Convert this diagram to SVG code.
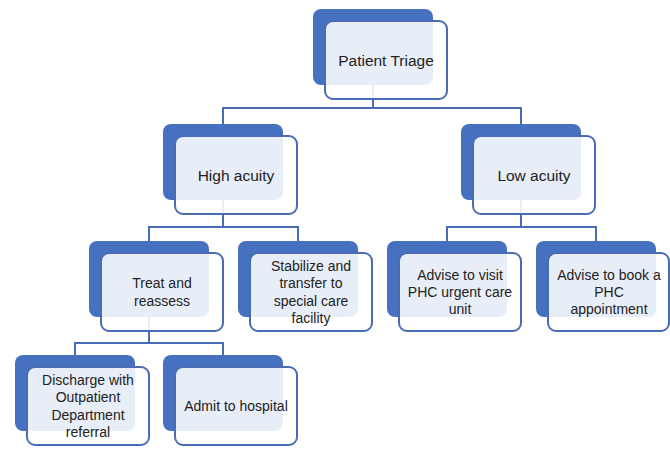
<svg xmlns="http://www.w3.org/2000/svg" width="670" height="455" viewBox="0 0 670 455">
<style>
.back{fill:#4671c0;}
.front{fill:#ffffff;fill-opacity:0.88;stroke:#4a6cb4;stroke-width:2;}
.conn{fill:none;stroke:#4a6cb4;stroke-width:2;}
text{font-family:"Liberation Sans",Arial,sans-serif;fill:#222222;text-anchor:middle;}
.l1{font-size:15.5px;}
.l2{font-size:14px;}
</style>
<rect width="670" height="455" fill="#ffffff"/>
<g id="connectors">
<path class="conn" d="M373,85 V108 M222,108 H522 M223,108 V124 M521,108 V124"/>
<path class="conn" d="M223,200 V227 M148,227 H299 M149,227 V241 M298,227 V241"/>
<path class="conn" d="M521,200 V227 M446,227 H597 M447,227 V241 M596,227 V241"/>
<path class="conn" d="M149,317 V343 M74,343 H224 M75,343 V355 M223,343 V355"/>
</g>
<g id="patient-triage">
<rect class="back" x="313" y="9" width="120" height="76" rx="8"/>
<rect class="front" x="325" y="21" width="122" height="78" rx="8"/>
<text class="l1" x="386" y="65.5">Patient Triage</text>
</g>
<g id="high-acuity">
<rect class="back" x="163" y="124" width="120" height="76" rx="8"/>
<rect class="front" x="175" y="136" width="122" height="78" rx="8"/>
<text class="l1" x="236" y="180.5">High acuity</text>
</g>
<g id="low-acuity">
<rect class="back" x="461" y="124" width="120" height="76" rx="8"/>
<rect class="front" x="473" y="136" width="122" height="78" rx="8"/>
<text class="l1" x="534" y="180.5">Low acuity</text>
</g>
<g id="treat-reassess">
<rect class="back" x="89" y="241" width="120" height="76" rx="8"/>
<rect class="front" x="101" y="253" width="122" height="78" rx="8"/>
<text class="l2" x="162" y="288.3">Treat and<tspan x="162" dy="17.3">reassess</tspan></text>
</g>
<g id="stabilize-transfer">
<rect class="back" x="238" y="241" width="120" height="76" rx="8"/>
<rect class="front" x="250" y="253" width="122" height="78" rx="8"/>
<text class="l2" x="311" y="271">Stabilize and<tspan x="311" dy="17.3">transfer to</tspan><tspan x="311" dy="17.3">special care</tspan><tspan x="311" dy="17.3">facility</tspan></text>
</g>
<g id="advise-visit">
<rect class="back" x="387" y="241" width="120" height="76" rx="8"/>
<rect class="front" x="399" y="253" width="122" height="78" rx="8"/>
<text class="l2" x="460" y="279.7">Advise to visit<tspan x="460" dy="17.3">PHC urgent care</tspan><tspan x="460" dy="17.3">unit</tspan></text>
</g>
<g id="advise-book">
<rect class="back" x="536" y="241" width="120" height="76" rx="8"/>
<rect class="front" x="548" y="253" width="121" height="78" rx="8"/>
<text class="l2" x="609" y="279.7">Advise to book a<tspan x="609" dy="17.3">PHC</tspan><tspan x="609" dy="17.3">appointment</tspan></text>
</g>
<g id="discharge">
<rect class="back" x="15" y="355" width="120" height="76" rx="8"/>
<rect class="front" x="27" y="367" width="122" height="78" rx="8"/>
<text class="l2" x="88" y="385">Discharge with<tspan x="88" dy="17.3">Outpatient</tspan><tspan x="88" dy="17.3">Department</tspan><tspan x="88" dy="17.3">referral</tspan></text>
</g>
<g id="admit">
<rect class="back" x="163" y="355" width="120" height="76" rx="8"/>
<rect class="front" x="175" y="367" width="122" height="78" rx="8"/>
<text class="l2" x="236" y="411">Admit to hospital</text>
</g>
</svg>
